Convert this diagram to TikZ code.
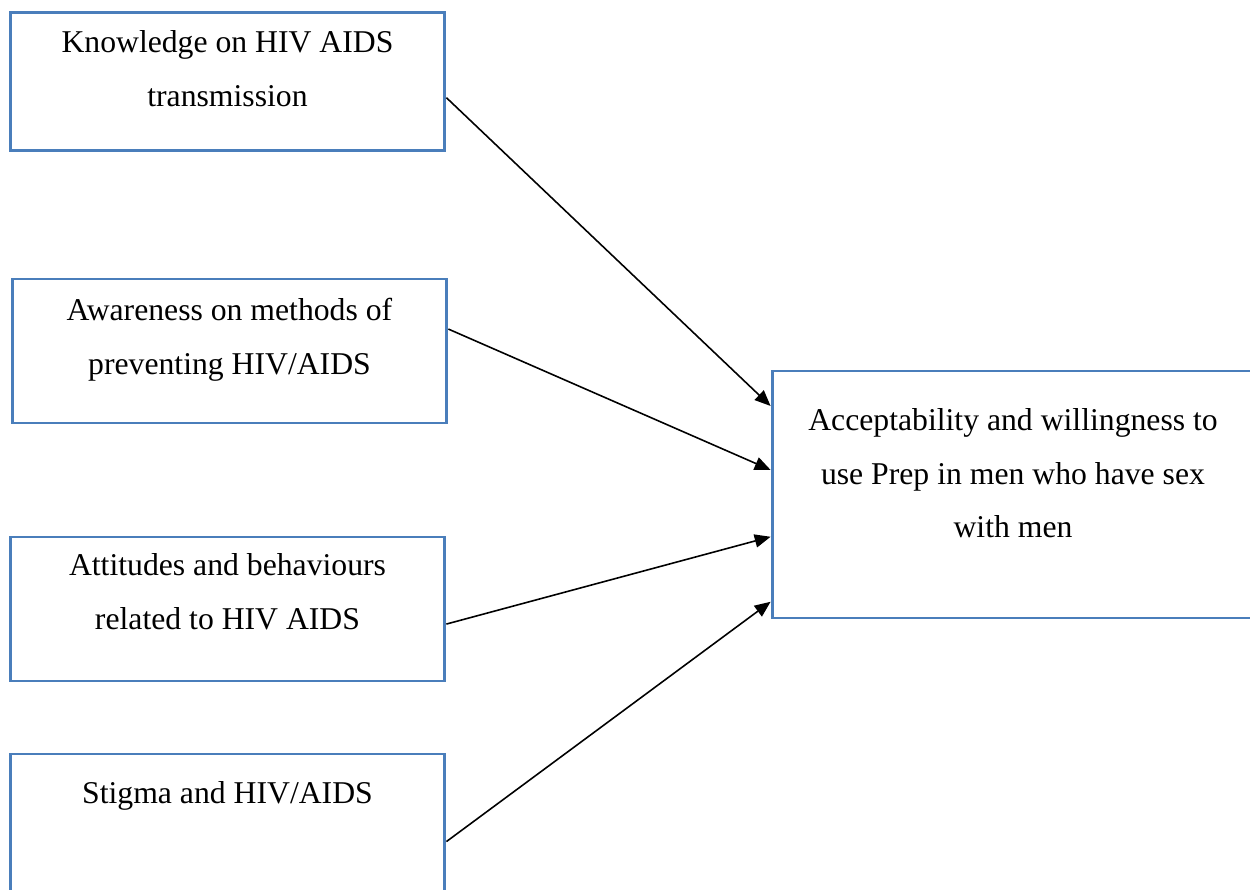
\documentclass[tikz,border=0pt]{standalone}
\usepackage{fontspec}
\setmainfont{Liberation Serif}
\usetikzlibrary{arrows.meta}
\definecolor{boxblue}{HTML}{4A7EBB}
\tikzset{
    caption/.style = {
        align=center, anchor=north, inner sep=0, font=\fontsize{12}{20.4}\selectfont,
        execute at begin node=\strut
    },
    factor/.style 2 args = {
        rectangle, draw=boxblue, line width=1.1pt, inner sep=0,
        minimum width=164.6pt, minimum height=54.5pt,
        label={[caption, yshift=#2]north:{#1}}
    },
    link/.style = {-{Triangle[length=6pt, width=5pt]}, line width=0.6pt}
}

\begin{document}
\begin{tikzpicture}[x=0.3785pt, y=-0.3785pt]
    \clip (0,0) rectangle (1250,890);
    \node[factor={Knowledge on HIV AIDS\\transmission}{-7.3pt}, minimum height=52.4pt] (know) at (227.5,81.3) {};
    \node[factor={Awareness on methods of\\preventing HIV/AIDS}{-7.7pt}] (aware) at (229.5,351) {};
    \node[factor={Attitudes and behaviours\\related to HIV AIDS}{-6.6pt}] (attitude) at (227.5,609) {};
    \node[factor={Stigma and HIV/AIDS}{-4.7pt}] (stigma) at (227.5,826) {};
    \node[factor={Acceptability and willingness to\\use Prep in men who have sex\\with men}{-14.4pt},
        minimum width=182.4pt, minimum height=93.5pt] (accept) at (1013,494.5) {};

    \draw[link] ([yshift=-6.2pt]know.east) -- ([yshift=33.5pt]accept.west);
    \draw[link] ([yshift=8.3pt]aware.east) -- ([yshift=9.3pt]accept.west);
    \draw[link] ([yshift=-5.7pt]attitude.east) -- ([yshift=-16pt]accept.west);
    \draw[link] ([yshift=-5.9pt]stigma.east) -- ([yshift=-40.6pt]accept.west);
\end{tikzpicture}
\end{document}
